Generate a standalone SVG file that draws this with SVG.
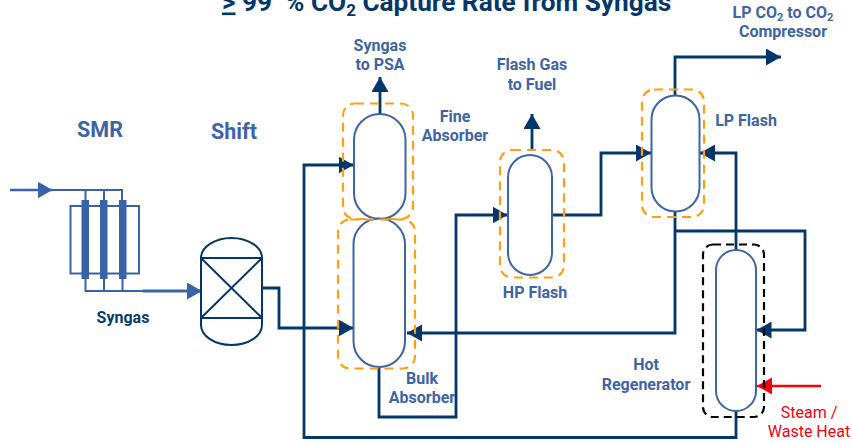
<svg xmlns="http://www.w3.org/2000/svg" width="852" height="444" viewBox="0 0 852 444">
<style>
text{font-family:Roboto,"Liberation Sans",sans-serif;font-weight:700;text-anchor:middle}
.lb{font-size:16px;fill:#3d64a6}
.hd{font-size:21.500px;fill:#3d64a6}
.dk{font-size:16px;fill:#0a3a6b}
.title{font-size:26.200px;fill:#03366a;text-anchor:start}
.red{font-size:16px;fill:#f5000f;font-weight:400}
.v{fill:#fff;stroke:#3d64a6;stroke-width:2}
.o{fill:none;stroke:#ffa010;stroke-width:2.200;stroke-dasharray:9 6}
.k{fill:none;stroke:#000;stroke-width:2.200;stroke-dasharray:8 5}
.c{fill:none;stroke:#03366a;stroke-width:2.800}
.c2{fill:none;stroke:#3a62a8;stroke-width:2}
.s{fill:none;stroke:#03366a;stroke-width:2}
</style>
<defs>
<marker id="a" markerUnits="userSpaceOnUse" markerWidth="16" markerHeight="18" refX="15" refY="8.500" orient="auto"><path d="M0 0L15 8.500L0 17Z" fill="#03366a"/></marker>
<marker id="ab" markerUnits="userSpaceOnUse" markerWidth="16" markerHeight="18" refX="15" refY="8.500" orient="auto"><path d="M0 0L15 8.500L0 17Z" fill="#3a62a8"/></marker>
<marker id="ar" markerUnits="userSpaceOnUse" markerWidth="16" markerHeight="18" refX="15" refY="8.500" orient="auto"><path d="M0 0L15 8.500L0 17Z" fill="#f5000f"/></marker>
</defs>
<text class="title" x="222" y="10.500"><tspan text-decoration="underline">&gt;</tspan> 99 &#160;% CO<tspan font-size="17" dy="5">2</tspan><tspan dy="-5"> Capture Rate from Syngas</tspan></text>
<g id="connectors">
<path class="c2" style="stroke-width:2.600" d="M10 190H52.500" marker-end="url(#ab)"/>
<path class="c2" d="M52 190H122V206M85.500 190V206M104 190V206M85.500 279V291H143M104 279V291M122.500 279V291"/>
<path class="c2" style="stroke-width:2.800" d="M143 291H202" marker-end="url(#ab)"/>
<path class="c" d="M262 288H279V328H353.500" marker-end="url(#a)"/>
<path class="c" d="M380 114V77" marker-end="url(#a)"/>
<path class="c" d="M736 411V437.500H304V165H353.500" marker-end="url(#a)"/>
<path class="c" d="M379 367V417H456V215H507.500" marker-end="url(#a)"/>
<path class="c" d="M532 150V114" marker-end="url(#a)"/>
<path class="c" d="M552 215H601V153H651" marker-end="url(#a)"/>
<path class="c" d="M675 95V57H781" marker-end="url(#a)"/>
<path class="c" d="M675 211V333H407" marker-end="url(#a)"/>
<path class="c" d="M675 231H805V330H756.500" marker-end="url(#a)"/>
<path class="c" d="M736 250V153H700" marker-end="url(#a)"/>
<path d="M821 386H757" fill="none" stroke="#f5000f" stroke-width="2.600" marker-end="url(#ar)"/>
</g>
<g id="smr">
<rect x="70.500" y="206" width="68.500" height="67.500" class="c2"/>
<rect x="81.500" y="200" width="7.500" height="79" fill="#3a62a8"/>
<rect x="100" y="200" width="7.500" height="79" fill="#3a62a8"/>
<rect x="119" y="200" width="7.500" height="79" fill="#3a62a8"/>
<text class="hd" x="100" y="137">SMR</text>
<text class="dk" x="123" y="323">Syngas</text>
</g>
<g id="shift">
<rect x="201" y="238" width="61" height="107" rx="30.500" ry="20" class="s"/>
<path class="s" d="M201 258H262V318H201ZM201 258L262 318M262 258L201 318"/>
<text class="hd" x="234" y="139">Shift</text>
</g>
<g id="fine-absorber">
<rect class="v" x="354" y="114" width="51.500" height="105" rx="25.750"/>
<rect class="o" x="343" y="103.500" width="70" height="115.500" rx="12"/>
<text class="lb" x="380" y="51">Syngas</text>
<text class="lb" x="380" y="70">to PSA</text>
<text class="lb" x="455" y="122">Fine</text>
<text class="lb" x="455" y="141">Absorber</text>
</g>
<g id="bulk-absorber">
<rect class="v" x="353.500" y="218.500" width="51.500" height="148.500" rx="25.750"/>
<rect class="o" x="338" y="219.500" width="77" height="149" rx="12"/>
<text class="lb" x="422" y="384">Bulk</text>
<text class="lb" x="422" y="403">Absorber</text>
</g>
<g id="hp-flash">
<rect class="v" x="508" y="155" width="44" height="120" rx="22"/>
<rect class="o" x="500" y="150" width="64" height="127.500" rx="12"/>
<text class="lb" x="532" y="70">Flash Gas</text>
<text class="lb" x="532" y="90">to Fuel</text>
<text class="lb" x="535" y="298">HP Flash</text>
</g>
<g id="lp-flash">
<rect class="v" x="651.500" y="95.500" width="48" height="116" rx="24"/>
<rect class="o" x="642" y="89.500" width="62" height="127.500" rx="12"/>
<text class="lb" x="783" y="18">LP CO<tspan font-size="11" dy="3">2</tspan><tspan dy="-3"> to CO</tspan><tspan font-size="11" dy="3">2</tspan></text>
<text class="lb" x="783" y="37">Compressor</text>
<text class="lb" x="746" y="126">LP Flash</text>
</g>
<g id="hot-regenerator">
<rect class="v" x="716" y="250" width="40" height="161" rx="20"/>
<rect class="k" x="703" y="244.500" width="61" height="172.500" rx="10"/>
<text class="lb" x="646" y="370">Hot</text>
<text class="lb" x="646" y="390">Regenerator</text>
<text class="red" x="809" y="418">Steam /</text>
<text class="red" x="809" y="437">Waste Heat</text>
</g>
</svg>
